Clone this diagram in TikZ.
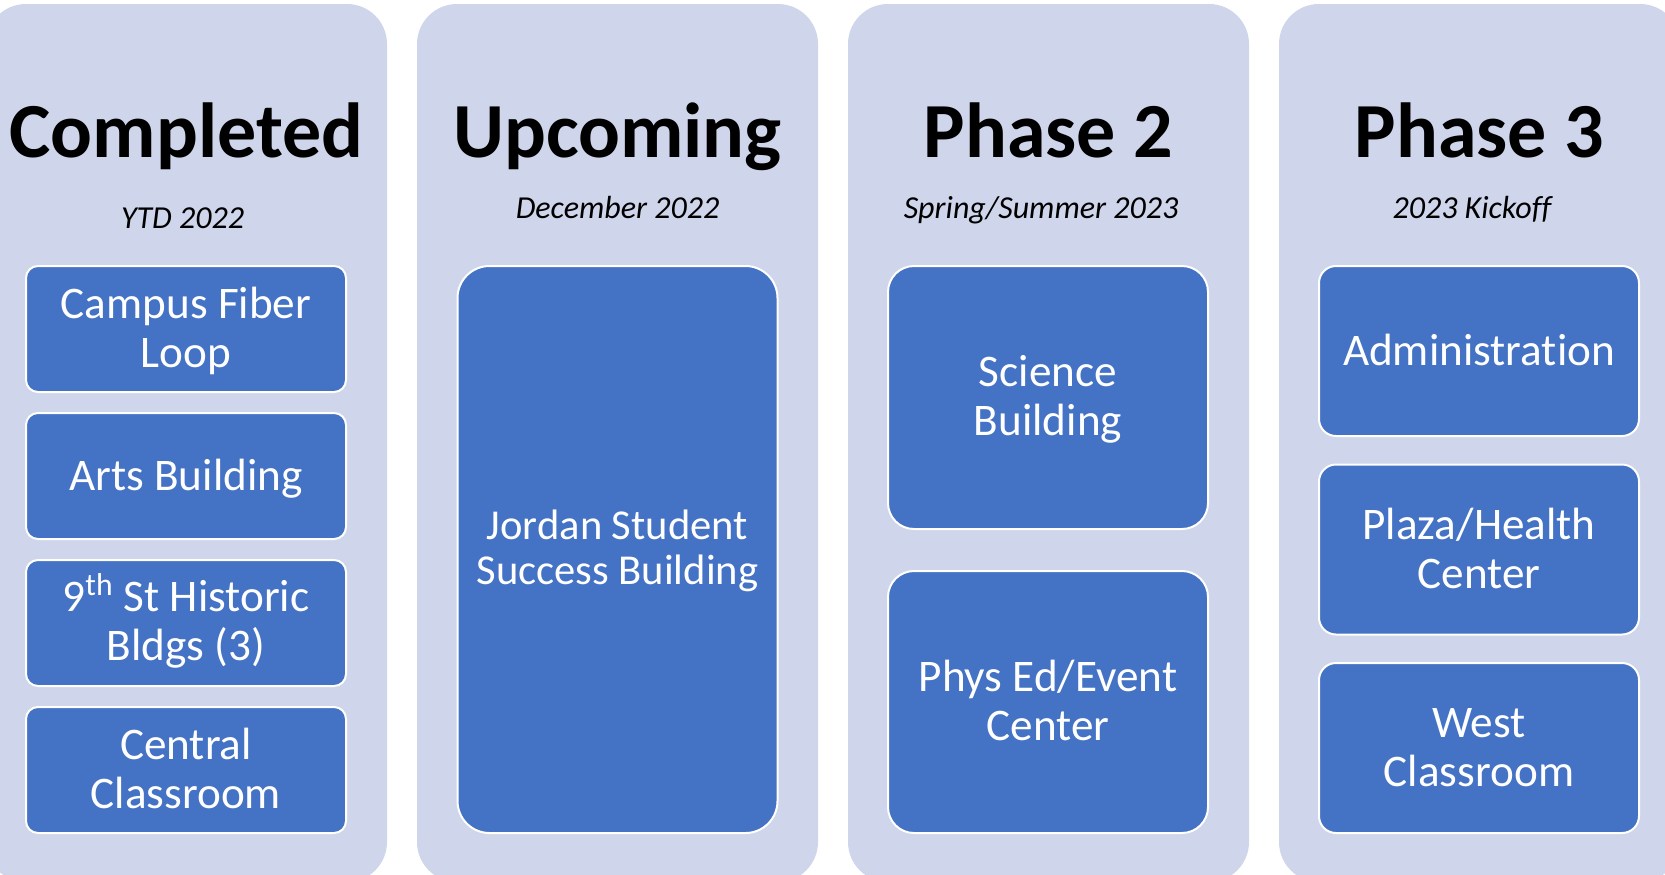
\documentclass[tikz,border=0pt]{standalone}
\usepackage{fontspec}
\setmainfont{Carlito}[Ligatures=NoCommon]
\definecolor{panelbg}{HTML}{CFD5EA}
\definecolor{itemblue}{HTML}{4472C4}
\tikzset{
  panel/.style={fill=panelbg, draw=none, rounded corners=20pt, inner sep=0pt,
    minimum width=200.5pt, minimum height=439pt},
  item/.style={fill=itemblue, draw=white, line width=1pt, inner sep=0pt, minimum width=160pt},
  ttl/.style={font=\bfseries\fontsize{39}{45}\selectfont, anchor=base, inner sep=0pt},
  sub/.style={font=\itshape\fontsize{16}{18}\selectfont, anchor=base, inner sep=0pt},
  itxt/.style={font=\fontsize{22.6}{24.5}\selectfont, text=white, align=center, anchor=base, inner sep=0pt},
  itxtb/.style={font=\fontsize{21.3}{22.5}\selectfont, text=white, align=center, anchor=base, inner sep=0pt},
}
\begin{document}
\begin{tikzpicture}[x=0.5pt,y=-0.5pt]
\useasboundingbox (0,0) rectangle (1665,874);
\clip (0,0) rectangle (1665,874);
% panels
\node[panel] (p1) at (186.5,443) {};
\node[panel] (p2) at (617.5,443) {};
\node[panel] (p3) at (1048.5,443) {};
\node[panel] (p4) at (1479.5,443) {};
% titles
\node[ttl] (t1) at (186.5,157) {Completed};
\node[ttl] (t2) at (617.5,157) {Upcoming};
\node[ttl] (t3) at (1048.5,157) {Phase 2};
\node[ttl] (t4) at (1479.5,157) {Phase 3};
\node[sub] (s1) at (182.5,228) {YTD 2022};
\node[sub] (s2) at (617.5,218) {December 2022};
\node[sub] (s3) at (1041,218) {Spring/Summer 2023};
\node[sub] (s4) at (1472,218) {2023 Kickoff};
% column 1
\node[item, minimum height=63pt, rounded corners=6pt] (c1) at (186,329) {};
\node[item, minimum height=63pt, rounded corners=6pt] (c2) at (186,476) {};
\node[item, minimum height=63pt, rounded corners=6pt] (c3) at (186,623) {};
\node[item, minimum height=63pt, rounded corners=6pt] (c4) at (186,770) {};
\node[itxt] (c1t) at (186,367.5) {Campus Fiber\\Loop};
\node[itxt] (c2t) at (186,490) {Arts Building};
\node[itxt] (c3t) at (186,660) {9\textsuperscript{th} St Historic\\Bldgs (3)};
\node[itxt] (c4t) at (186,808) {Central\\Classroom};
% column 2
\node[item, minimum height=283.5pt, rounded corners=16pt] (u1) at (617.5,549.5) {};
\node[itxtb] (u1t) at (617.5,584) {Jordan Student\\Success Building};
% column 3
\node[item, minimum height=131.5pt, rounded corners=13pt] (f1) at (1048,397.5) {};
\node[item, minimum height=131pt, rounded corners=13pt] (f2) at (1048,702) {};
\node[itxt] (f1t) at (1048,435) {Science\\Building};
\node[itxt] (f2t) at (1048,740) {Phys Ed/Event\\Center};
% column 4
\node[item, minimum height=85pt, rounded corners=8.5pt] (g1) at (1479,351) {};
\node[item, minimum height=85pt, rounded corners=8.5pt] (g2) at (1479,549.5) {};
\node[item, minimum height=85pt, rounded corners=8.5pt] (g3) at (1479,748) {};
\node[itxt] (g1t) at (1479,365) {Administrat\kern0pt ion};
\node[itxt] (g2t) at (1479,588) {Plaza/Health\\Center};
\node[itxt] (g3t) at (1479,786) {West\\Classroom};
\end{tikzpicture}
\end{document}
